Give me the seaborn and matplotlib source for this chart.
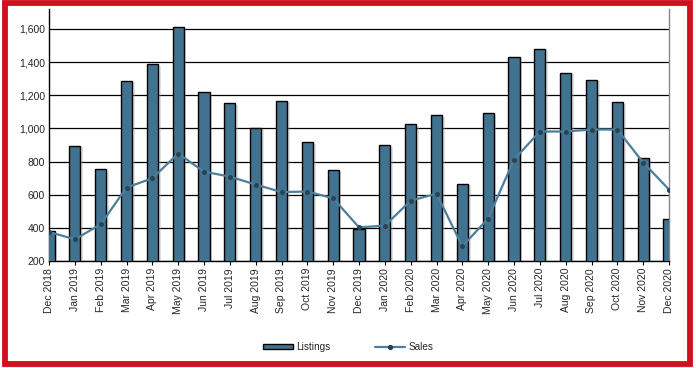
import matplotlib
matplotlib.use("Agg")
import matplotlib.pyplot as plt
import matplotlib.patches as mpatches
import matplotlib.patheffects as pe
from matplotlib.lines import Line2D
import seaborn as sns
import numpy as np
import pandas as pd

months = ["Dec 2018", "Jan 2019", "Feb 2019", "Mar 2019", "Apr 2019", "May 2019",
          "Jun 2019", "Jul 2019", "Aug 2019", "Sep 2019", "Oct 2019", "Nov 2019",
          "Dec 2019", "Jan 2020", "Feb 2020", "Mar 2020", "Apr 2020", "May 2020",
          "Jun 2020", "Jul 2020", "Aug 2020", "Sep 2020", "Oct 2020", "Nov 2020",
          "Dec 2020"]
listings = [381, 896, 755, 1288, 1389, 1612, 1220, 1154, 1005, 1168, 918, 749,
            395, 900, 1027, 1081, 667, 1093, 1431, 1480, 1335, 1293, 1160, 822, 454]
sales = [375, 331, 421, 643, 699, 848, 739, 709, 661, 616, 619, 578,
         403, 413, 564, 606, 289, 456, 812, 981, 981, 993, 993, 794, 631]
y_ticks = [200, 400, 600, 800, 1000, 1200, 1400, 1600]

bar_color = "#41728f"
line_color = "#4b7f9c"

sns.set_style("white")
plt.rcParams["font.family"] = ["Liberation Sans", "DejaVu Sans"]

df = pd.DataFrame({"month": months, "listings": listings, "sales": sales})

fig = plt.figure(figsize=(6.96, 3.68), dpi=100)
ax = fig.add_axes([49 / 696, 1 - 261 / 368, 620 / 696, 252 / 368])

ax.set_axisbelow(True)
ax.yaxis.grid(True, color="black", linewidth=0.9)

sns.barplot(data=df, x="month", y="listings", ax=ax, color=bar_color,
            width=0.43, edgecolor="black", linewidth=1.0, saturation=1,
            zorder=3)
for p in ax.patches:
    p.set_path_effects([pe.SimplePatchShadow(offset=(2, -1.2), shadow_rgbFace="#aaaaaa", alpha=0.35),
                        pe.Normal()])

pos = np.arange(len(months))
sns.lineplot(x=pos, y=df["sales"].values, ax=ax, color=line_color, linewidth=1.6,
             marker="o", markersize=2.8, markerfacecolor="#2a4352",
             markeredgecolor="#2a4352", zorder=4)

ax.set_xlim(0, len(months) - 1)
ax.set_ylim(200, 1720)
ax.set_yticks(y_ticks)
ax.set_yticklabels([f"{v:,}" for v in y_ticks], fontsize=7.5)
ax.set_xticks(pos)
ax.set_xticklabels(months, rotation=90, fontsize=7.5)
ax.tick_params(axis="x", length=3, width=0.8, color="black", pad=2, bottom=True)
ax.tick_params(axis="y", length=0, pad=3)
ax.set_xlabel("")
ax.set_ylabel("")

for s in ["left", "bottom"]:
    ax.spines[s].set_color("black")
    ax.spines[s].set_linewidth(1.0)
ax.spines["top"].set_visible(False)
ax.spines["right"].set_color("#888888")
ax.spines["right"].set_linewidth(1.0)

handles = [mpatches.Patch(facecolor=bar_color, edgecolor="black", linewidth=1.0, label="Listings"),
           Line2D([0], [0], color=line_color, linewidth=1.6, marker="o", markersize=2.8,
                  markerfacecolor="#2a4352", markeredgecolor="#2a4352", label="Sales")]
fig.legend(handles=handles, loc="center", bbox_to_anchor=(0.5, 1 - 347 / 368), ncol=2,
           frameon=False, fontsize=7.2, handlelength=3.0, handleheight=0.5,
           columnspacing=4.5, handletextpad=0.3)

border = mpatches.Rectangle((4.5 / 696, 1 - 363.5 / 368), 685 / 696, 361 / 368,
                            transform=fig.transFigure, fill=False,
                            edgecolor="#d0101c", linewidth=4.2, zorder=10)
fig.patches.append(border)

fig.savefig("out.png", dpi=100)
